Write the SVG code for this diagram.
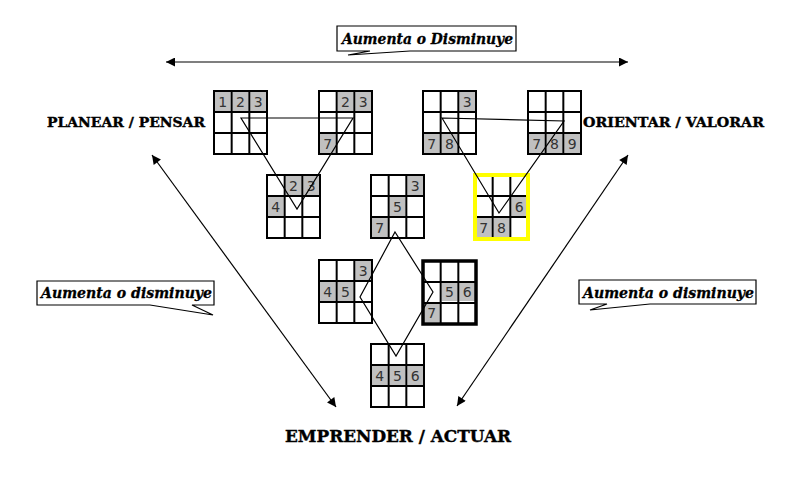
<svg xmlns="http://www.w3.org/2000/svg" xmlns:xlink="http://www.w3.org/1999/xlink" width="790" height="486" viewBox="0 0 790 486">
<style>
.bg{fill:#ffffff}
.cell{fill:#c0c0c0}
.gl{stroke:#000;stroke-width:2;fill:none}
.num{font-family:"DejaVu Sans","Liberation Sans",sans-serif;font-size:14px;fill:#333;text-anchor:middle}
.lbl{font-family:"DejaVu Serif","Liberation Serif",serif;font-weight:bold;fill:#000;stroke:#000;stroke-width:0.4}
.call{font-family:"DejaVu Serif","Liberation Serif",serif;font-weight:bold;font-style:italic;font-size:14px;fill:#000;stroke:#000;stroke-width:0.3}
.box{fill:#fff;stroke:#000;stroke-width:1.2}
.thin{stroke:#000;stroke-width:1.2;fill:none}
.arr{stroke:#000;stroke-width:1.2;fill:none;marker-start:url(#ah);marker-end:url(#ah)}
</style>
<defs>
<marker id="ah" viewBox="0 0 10 10" refX="10" refY="5" markerWidth="12" markerHeight="9" markerUnits="userSpaceOnUse" orient="auto-start-reverse">
<path d="M0,0 L10,5 L0,10 Z" fill="#000"/>
</marker>
<g id="grid">
<rect x="0" y="0" width="53" height="63" class="gl"/>
<line x1="17.67" y1="0" x2="17.67" y2="63" class="gl"/>
<line x1="35.33" y1="0" x2="35.33" y2="63" class="gl"/>
<line x1="0" y1="21" x2="53" y2="21" class="gl"/>
<line x1="0" y1="42" x2="53" y2="42" class="gl"/>
</g>
<g id="gridin">
<line x1="17.67" y1="0" x2="17.67" y2="63" class="gl"/>
<line x1="35.33" y1="0" x2="35.33" y2="63" class="gl"/>
<line x1="0" y1="21" x2="53" y2="21" class="gl"/>
<line x1="0" y1="42" x2="53" y2="42" class="gl"/>
</g>
</defs>
<rect class="bg" x="0" y="0" width="790" height="486"/>

<g id="g1">
<rect class="cell" x="215" y="92" width="15.7" height="19"/>
<rect class="cell" x="232.7" y="92" width="15.7" height="19"/>
<rect class="cell" x="250.3" y="92" width="15.7" height="19"/>
<use xlink:href="#grid" x="214" y="91"/>
<text class="num" x="222.8" y="107">1</text>
<text class="num" x="240.5" y="107">2</text>
<text class="num" x="258.2" y="107">3</text>
</g>

<g id="g2">
<rect class="cell" x="337.7" y="92" width="15.7" height="19"/>
<rect class="cell" x="355.3" y="92" width="15.7" height="19"/>
<rect class="cell" x="320" y="134" width="15.7" height="19"/>
<use xlink:href="#grid" x="319" y="91"/>
<text class="num" x="345.5" y="107">2</text>
<text class="num" x="363.2" y="107">3</text>
<text class="num" x="327.8" y="149">7</text>
</g>

<g id="g3">
<rect class="cell" x="285.7" y="176" width="15.7" height="19"/>
<rect class="cell" x="303.3" y="176" width="15.7" height="19"/>
<rect class="cell" x="268" y="197" width="15.7" height="19"/>
<use xlink:href="#grid" x="267" y="175"/>
<text class="num" x="293.5" y="191">2</text>
<text class="num" x="311.2" y="191">3</text>
<text class="num" x="275.8" y="212">4</text>
</g>

<g id="g4">
<rect class="cell" x="407.3" y="176" width="15.7" height="19"/>
<rect class="cell" x="389.7" y="197" width="15.7" height="19"/>
<rect class="cell" x="372" y="218" width="15.7" height="19"/>
<use xlink:href="#grid" x="371" y="175"/>
<text class="num" x="415.2" y="191">3</text>
<text class="num" x="397.5" y="212">5</text>
<text class="num" x="379.8" y="233">7</text>
</g>

<g id="g5">
<rect class="cell" x="459.3" y="92" width="15.7" height="19"/>
<rect class="cell" x="424" y="134" width="15.7" height="19"/>
<rect class="cell" x="441.7" y="134" width="15.7" height="19"/>
<use xlink:href="#grid" x="423" y="91"/>
<text class="num" x="467.2" y="107">3</text>
<text class="num" x="431.8" y="149">7</text>
<text class="num" x="449.5" y="149">8</text>
</g>

<g id="g6">
<rect class="cell" x="529" y="134" width="15.7" height="19"/>
<rect class="cell" x="546.7" y="134" width="15.7" height="19"/>
<rect class="cell" x="564.3" y="134" width="15.7" height="19"/>
<use xlink:href="#grid" x="528" y="91"/>
<text class="num" x="536.8" y="149">7</text>
<text class="num" x="554.5" y="149">8</text>
<text class="num" x="572.2" y="149">9</text>
</g>

<g id="g7">
<rect class="cell" x="511.3" y="197" width="15.7" height="19"/>
<rect class="cell" x="476" y="218" width="15.7" height="19"/>
<rect class="cell" x="493.7" y="218" width="15.7" height="19"/>
<use xlink:href="#gridin" x="475" y="175"/>
<rect x="475" y="175" width="53" height="64" fill="none" stroke="#ffff00" stroke-width="4"/>
<text class="num" x="519.2" y="212">6</text>
<text class="num" x="483.8" y="233">7</text>
<text class="num" x="501.5" y="233">8</text>
</g>

<g id="g8">
<rect class="cell" x="355.3" y="261" width="15.7" height="19"/>
<rect class="cell" x="320" y="282" width="15.7" height="19"/>
<rect class="cell" x="337.7" y="282" width="15.7" height="19"/>
<use xlink:href="#grid" x="319" y="260"/>
<text class="num" x="363.2" y="276">3</text>
<text class="num" x="327.8" y="297">4</text>
<text class="num" x="345.5" y="297">5</text>
</g>

<g id="g9">
<rect class="cell" x="441.7" y="282" width="15.7" height="19"/>
<rect class="cell" x="459.3" y="282" width="15.7" height="19"/>
<rect class="cell" x="424" y="303" width="15.7" height="19"/>
<use xlink:href="#gridin" x="423" y="261"/>
<rect x="423" y="261" width="53" height="63" fill="none" stroke="#000" stroke-width="3.5"/>
<text class="num" x="449.5" y="297">5</text>
<text class="num" x="467.2" y="297">6</text>
<text class="num" x="431.8" y="318">7</text>
</g>

<g id="g10">
<rect class="cell" x="372" y="366" width="15.7" height="19"/>
<rect class="cell" x="389.7" y="366" width="15.7" height="19"/>
<rect class="cell" x="407.3" y="366" width="15.7" height="19"/>
<use xlink:href="#grid" x="371" y="344"/>
<text class="num" x="379.8" y="381">4</text>
<text class="num" x="397.5" y="381">5</text>
<text class="num" x="415.2" y="381">6</text>
</g>

<g id="connectors">
<polygon class="thin" points="241,118 353,118 297,209"/>
<polygon class="thin" points="442,118 564,121 499,213"/>
<polygon class="thin" points="395,232 433,292 396,356 360,297"/>
<line class="arr" x1="166" y1="62" x2="628" y2="62"/>
<line class="arr" x1="152" y1="155" x2="336" y2="407"/>
<line class="arr" x1="628" y1="155" x2="457" y2="406"/>
</g>

<g id="callout-top">
<path class="box" d="M337,26 H516 V51 H410 L348,55 L370,51 H337 Z"/>
<text class="call" x="342" y="44" textLength="171" lengthAdjust="spacingAndGlyphs">Aumenta o Disminuye</text>
</g>
<g id="callout-left">
<path class="box" d="M37,281 H214 V305 H192 L213,315 L150,305 H37 Z"/>
<text class="call" x="41" y="298" textLength="171" lengthAdjust="spacingAndGlyphs">Aumenta o disminuye</text>
</g>
<g id="callout-right">
<path class="box" d="M579,280 H756 V304 H650 L590,310 L607,304 H579 Z"/>
<text class="call" x="583" y="297.5" textLength="171" lengthAdjust="spacingAndGlyphs">Aumenta o disminuye</text>
</g>

<g id="label-planear">
<text class="lbl" x="47" y="127" font-size="13" textLength="158" lengthAdjust="spacingAndGlyphs">PLANEAR / PENSAR</text>
</g>
<g id="label-orientar">
<text class="lbl" x="583" y="127" font-size="13" textLength="181" lengthAdjust="spacingAndGlyphs">ORIENTAR / VALORAR</text>
</g>
<g id="label-emprender">
<text class="lbl" x="285" y="442" font-size="17" textLength="226" lengthAdjust="spacingAndGlyphs">EMPRENDER / ACTUAR</text>
</g>
</svg>
